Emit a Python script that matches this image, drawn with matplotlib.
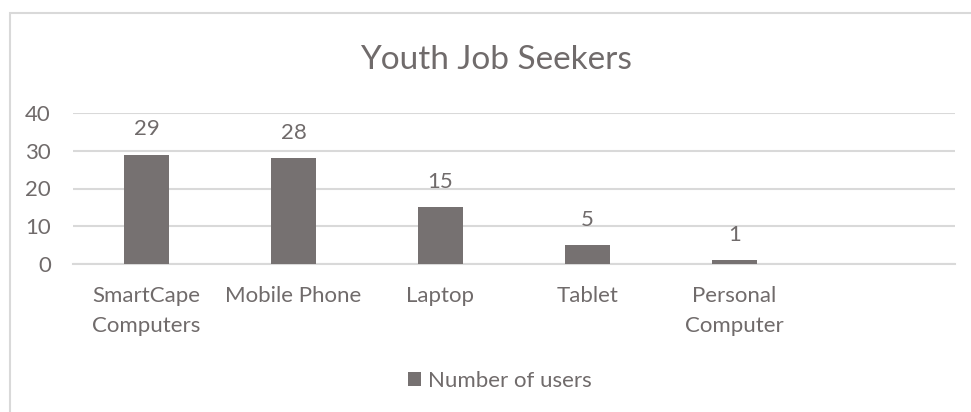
import matplotlib
matplotlib.use("Agg")
import matplotlib.pyplot as plt
from matplotlib.patches import Rectangle

categories = ["SmartCape\nComputers", "Mobile Phone", "Laptop", "Tablet", "Personal\nComputer"]
values = [29, 28, 15, 5, 1]
series_name = "Number of users"
title = "Youth Job Seekers"
yticks = [0, 10, 20, 30, 40]

BAR = "#767171"
TXT = "#706B6B"
GRID = "#D9D9D9"
FONT = "Lato"

W, H = 971, 412
fig = plt.figure(figsize=(W / 100, H / 100), dpi=100)
fig.patch.set_facecolor("white")

# chart border (left/top visible, extends past image on right/bottom)
fig.patches.append(Rectangle((9.5 / W, -0.1), 1.2, 1 - 13.5 / H + 0.1, transform=fig.transFigure,
                             fill=False, edgecolor="#D9D9D9", linewidth=1.5, zorder=0))

ax = fig.add_axes([73 / W, 1 - 264 / H, (955 - 73) / W, (264 - 113) / H])
x = list(range(len(categories)))
bars = ax.bar(x, values, width=0.31, color=BAR, zorder=3, label=series_name)
ax.set_xlim(-0.5, 5.5)
ax.set_ylim(0, 40)
ax.set_yticks(yticks)
ax.set_yticklabels([str(t) for t in yticks], fontsize=16, color=TXT, family=FONT)
ax.set_xticks(x)
ax.set_xticklabels(categories, fontsize=16, color=TXT, family=FONT, linespacing=1.6)
ax.tick_params(axis="both", length=0)
ax.tick_params(axis="y", pad=16)
ax.tick_params(axis="x", pad=16)
for lab in ax.get_xticklabels():
    lab.set_verticalalignment("top")
ax.grid(axis="y", color=GRID, linewidth=1.5, zorder=0)
for s in ["top", "right", "left"]:
    ax.spines[s].set_visible(False)
ax.spines["bottom"].set_color(GRID)
ax.spines["bottom"].set_linewidth(1.5)

for xi, v in zip(x, values):
    ax.annotate(str(v), (xi, v), xytext=(0, 11), textcoords="offset points",
                ha="center", va="bottom", fontsize=16, color=TXT, family=FONT)

fig.text(496 / W, 1 - 60 / H, title, ha="center", va="center", fontsize=24, color=TXT, family=FONT)

leg = fig.legend(handles=[bars], labels=[series_name], loc="center", bbox_to_anchor=(500 / W, 1 - 381 / H),
                 frameon=False, prop={"family": FONT, "size": 16}, handlelength=0.6, handleheight=0.6,
                 handletextpad=0.3)
for t in leg.get_texts():
    t.set_color(TXT)

fig.savefig("out.png", dpi=100)
